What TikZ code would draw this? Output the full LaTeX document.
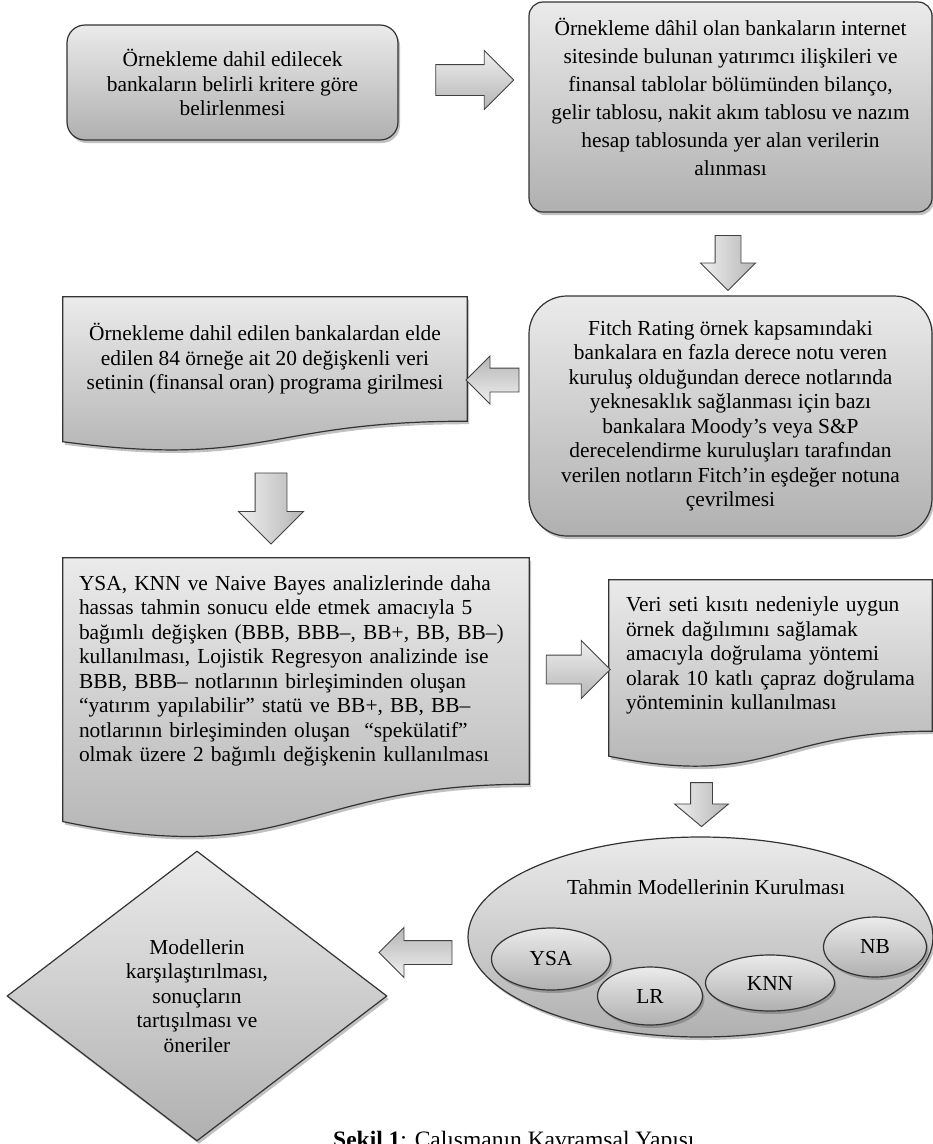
\documentclass[tikz,border=0pt]{standalone}
\usepackage{fontspec}
\setmainfont{Liberation Serif}
\usetikzlibrary{shapes.geometric,shapes.arrows,shadows,calc,backgrounds}

\begin{document}
\begin{tikzpicture}%
        [x={(1pt, 0pt)},
        y={(0pt, -1pt)},
        body/.style={font=\fontsize{21.4}{24.5}\selectfont},
        face/.style={draw=black!80, line width=1.2pt, top color=gray!16, bottom color=gray!62},
        shadowed/.style={drop shadow={shadow xshift=2pt, shadow yshift=-3pt, opacity=0.35, fill=black!70}},
        roundbox/.style={face, shadowed, body, rectangle, rounded corners=#1, align=center, inner sep=0pt},
        docarea/.style={body, rectangle, inner sep=0pt},
        docface/.style={face, shadowed},
        oval/.style={face, shadowed, ellipse, body, inner sep=0pt},
        blockarrow/.style={single arrow, draw=black!75, line width=0.9pt, single arrow tip angle=90, inner xsep=0pt},
        rightarrow/.style={blockarrow, top color=gray!12, bottom color=gray!58},
        downarrow/.style={blockarrow, rotate=-90, left color=gray!12, right color=gray!58},
        leftarrow/.style={blockarrow, rotate=180, top color=gray!58, bottom color=gray!12}]
    %
    %% Frame of the figure
    \useasboundingbox (0,0) rectangle (933,1144);
    %
    %% Drawing the rounded boxes
    %%
    \node[roundbox=18, minimum width=331, minimum height=115] (select) at (232.5,82.5)
        {Örnekleme dahil edilecek\\bankaların belirli kritere göre\\belirlenmesi};
    \node[roundbox=14, minimum width=403, minimum height=210,
          font=\fontsize{21.4}{28}\selectfont] (collect) at (730.5,107)
        {Örnekleme dâhil olan bankaların internet\\sitesinde bulunan yatırımcı ilişkileri ve\\finansal tablolar bölümünden bilanço,\\gelir tablosu, nakit akım tablosu ve nazım\\hesap tablosunda yer alan verilerin\\alınması\\[-8pt]\mbox{}};
    \node[roundbox=38, minimum width=403, minimum height=240] (fitch) at (730.5,416)
        {Fitch Rating örnek kapsamındaki\\bankalara en fazla derece notu veren\\kuruluş olduğundan derece notlarında\\yeknesaklık sağlanması için bazı\\bankalara Moody’s veya S\&P\\derecelendirme kuruluşları tarafından\\verilen notların Fitch’in eşdeğer notuna\\çevrilmesi};
    %%
    %% Drawing the document boxes (text area only)
    %%
    \node[docarea, align=center, minimum width=404, minimum height=124] (input) at (265,359)
        {Örnekleme dahil edilen bankalardan elde\\edilen 84 örneğe ait 20 değişkenli veri\\setinin (finansal oran) programa girilmesi};
    \node[docarea, align=left, text width=434, minimum width=466, minimum height=226] (targets) at (296,671)
        {YSA, KNN ve Naive Bayes analizlerinde daha\\hassas tahmin sonucu elde etmek amacıyla 5\\bağımlı değişken (BBB, BBB–, BB+, BB, BB–)\\kullanılması, Lojistik Regresyon analizinde ise\\BBB, BBB– notlarının birleşiminden oluşan\\“yatırım yapılabilir” statü ve BB+, BB, BB–\\notlarının birleşiminden oluşan \ “spekülatif”\\olmak üzere 2 bağımlı değişkenin kullanılması};
    \node[docarea, align=left, text width=289, minimum width=323, minimum height=151] (validate) at (770.5,655.5)
        {Veri seti kısıtı nedeniyle uygun\\örnek dağılımını sağlamak\\amacıyla doğrulama yöntemi\\olarak 10 katlı çapraz doğrulama\\yönteminin kullanılması};
    %%
    %% Drawing the wavy faces behind the document boxes
    %%
    \begin{pgfonlayer}{background}
    \path[docface] (input.north west) -- (input.north east) -- (input.south east)
        .. controls (input.south) and ($(input.north)!1.38!(input.south)$)
        .. ($(input.north west)!1.165!(input.south west)$) -- cycle;
    \path[docface] (targets.north west) -- (targets.north east) -- (targets.south east)
        .. controls (targets.south) and ($(targets.north)!1.38!(targets.south)$)
        .. ($(targets.north west)!1.165!(targets.south west)$) -- cycle;
    \path[docface] (validate.north west) -- (validate.north east) -- (validate.south east)
        .. controls (validate.south) and ($(validate.north)!1.38!(validate.south)$)
        .. ($(validate.north west)!1.165!(validate.south west)$) -- cycle;
    \end{pgfonlayer}
    %%
    %% Drawing the models
    %%
    \node[oval, minimum width=465, minimum height=200] (models) at (700.5,937) {};
    \node[body] (modtitle) at (706,887) {Tahmin Modellerinin Kurulması};
    \node[oval, minimum width=119, minimum height=62] (ysa) at (551,959) {YSA};
    \node[oval, minimum width=105, minimum height=58] (lr) at (650,996) {LR};
    \node[oval, minimum width=129, minimum height=56] (knn) at (770,983) {KNN};
    \node[oval, minimum width=103, minimum height=60] (nb) at (875,947) {NB};
    %%
    %% Drawing the decision
    %%
    \node[face, shadowed, diamond, body, align=center, inner sep=0pt,
          minimum width=380, minimum height=290] (compare) at (197,996)
        {Modellerin\\karşılaştırılması,\\sonuçların\\tartışılması ve\\öneriler};
    %%
    %% Drawing the block arrows
    %%
    \node[rightarrow, minimum height=78, inner ysep=15, single arrow head extend=14] (a1) at (467,80) {};
    \node[downarrow, minimum height=55, inner ysep=12.5, single arrow head extend=14.5] (a2) at (728,256.5) {};
    \node[leftarrow, minimum height=53, inner ysep=11.5, single arrow head extend=12] (a3) at (498.5,380) {};
    \node[downarrow, minimum height=71, inner ysep=15.5, single arrow head extend=16.5] (a4) at (271,500.5) {};
    \node[rightarrow, minimum height=64, inner ysep=14, single arrow head extend=14.5] (a5) at (571,669.5) {};
    \node[downarrow, minimum height=44, inner ysep=10.5, single arrow head extend=16, single arrow tip angle=100] (a6) at (701.5,800) {};
    \node[leftarrow, minimum height=73, inner ysep=11.5, single arrow head extend=13] (a7) at (421.5,952.5) {};
    %%
    %% Caption
    %%
    \node[anchor=base west, inner sep=0pt, font=\fontsize{23.5}{28}\selectfont] (caption) at (333,1147)
        {\textbf{Şekil 1}: Çalışmanın Kavramsal Yapısı};
    %%
\end{tikzpicture}
\end{document}
